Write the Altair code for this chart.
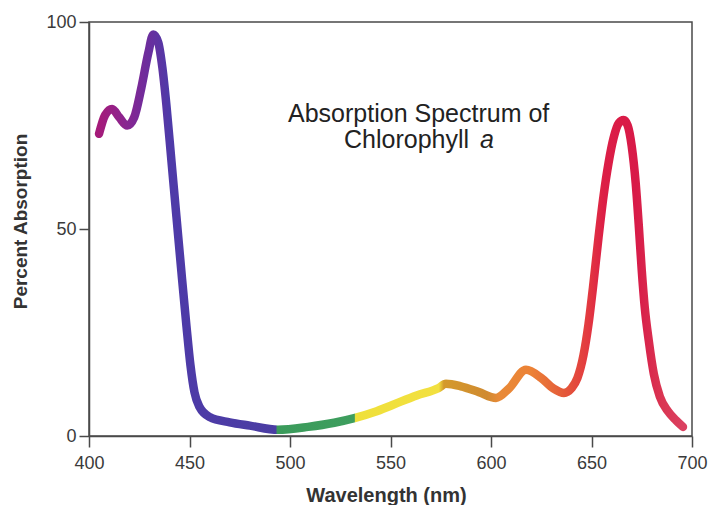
import altair as alt
import pandas as pd

# Absorption spectrum of chlorophyll a
wavelength = [405, 408, 411.5, 415, 419, 422.5, 426, 429.5, 432, 434.5, 436.5, 438.5, 441,
              443.5, 446, 448.5, 450.5, 452.5, 455, 460, 470, 480, 494, 509, 522, 532, 542,
              551, 563, 574, 577.6, 585, 594, 602.5, 609, 617.4, 625, 631, 636.3, 640,
              643, 646, 648.5, 651, 653.5, 656, 658.5, 661, 663.5, 666, 668, 670,
              672, 673.5, 675, 676.5, 678.5, 681, 684, 688, 692, 695.5]
absorption = [73, 77.5, 79, 77, 75, 77, 84, 92.5, 97, 95, 89, 80, 66.5,
              53, 39.5, 26.5, 17, 10.5, 7, 4.6, 3.3, 2.5, 1.5, 2.2, 3.2, 4.3, 5.8,
              7.5, 9.8, 11.6, 12.6, 12, 10.6, 9.2, 11.5, 16, 14, 11.5, 10.4, 11.5,
              14, 19.5, 27, 37, 48, 58, 66, 72, 75.5, 76.3, 75, 70,
              61, 51, 40, 31, 23, 15, 9.5, 6, 3.8, 2.2]

# colour of the curve along the wavelength axis
color_wl = [405, 418, 430, 440, 493, 493.6, 532, 532.6, 574, 576.5, 598, 604, 620, 636,
            648, 656, 672, 685, 695.5]
color_hex = ["#A51B7A", "#8A2590", "#6A2E9E", "#4E3AA8", "#4A3DA3", "#3B9B5B", "#3E9E5E",
             "#EFE03A", "#F2E040", "#D49A2C", "#D08A30", "#E88A38", "#EC8236", "#E45A3A",
             "#E33A40", "#DC1E46", "#D81A48", "#DA3552", "#DB4060"]

title_lines = ["Absorption Spectrum of", "Chlorophyll", "a"]

df = pd.DataFrame({"wl": wavelength, "abs": absorption})

lo, hi = min(wavelength), max(wavelength)
stops = [alt.GradientStop(offset=(w - lo) / (hi - lo), color=c) for w, c in zip(color_wl, color_hex)]
grad = alt.Gradient(gradient="linear", stops=stops, x1=0, x2=1, y1=0, y2=0)

x_enc = alt.X("wl:Q", scale=alt.Scale(domain=[400, 700], nice=False, zero=False),
              axis=alt.Axis(values=[400, 450, 500, 550, 600, 650, 700], title="Wavelength (nm)",
                            grid=False, tickSize=11, labelPadding=7, labelFontSize=18,
                            labelFlush=False, labelOverlap=False,
                            labelColor="#3a3a3a", labelFont="Liberation Sans",
                            domainColor="#4a4a4a", tickColor="#4a4a4a", domainWidth=1.5,
                            tickWidth=1.5, titleFont="Liberation Sans", titleFontSize=20,
                            titleFontWeight="bold", titleColor="#333333", titleX=297,
                            titleY=59, titleBaseline="middle", titleAlign="center"))
y_enc = alt.Y("abs:Q", scale=alt.Scale(domain=[0, 100], nice=False),
              axis=alt.Axis(values=[0, 50, 100], title="Percent Absorption", grid=False,
                            tickSize=10, labelPadding=3, labelFontSize=18,
                            labelFlush=False, labelOverlap=False,
                            labelColor="#3a3a3a", labelFont="Liberation Sans",
                            domainColor="#4a4a4a", tickColor="#4a4a4a", domainWidth=1.5,
                            tickWidth=1.5, titleFont="Liberation Sans", titleFontSize=19,
                            titleFontWeight="bold", titleColor="#333333", titleX=-69,
                            titleY=199, titleAngle=-90, titleBaseline="middle",
                            titleAlign="center"))

curve = alt.Chart(df).mark_line(stroke=grad, strokeWidth=8.5, strokeCap="round",
                                strokeJoin="round", interpolate="monotone").encode(x=x_enc, y=y_enc)

tdf = pd.DataFrame({"t": title_lines, "x": [564, 526.9, 594.5], "y": [75.8, 69.6, 69.6]})

t1 = alt.Chart(tdf.iloc[[0]]).mark_text(font="Liberation Sans", fontSize=25, color="#222222",
                                         align="center", baseline="alphabetic").encode(
    x="x:Q", y="y:Q", text="t:N")
t2 = alt.Chart(tdf.iloc[[1]]).mark_text(font="Liberation Sans", fontSize=25, color="#222222",
                                         align="left", baseline="alphabetic").encode(
    x="x:Q", y="y:Q", text="t:N")
t3 = alt.Chart(tdf.iloc[[2]]).mark_text(font="Liberation Sans", fontSize=25, color="#222222",
                                         align="left", baseline="alphabetic",
                                         fontStyle="italic").encode(
    x="x:Q", y="y:Q", text="t:N")

chart = alt.layer(curve, t1, t2, t3).properties(
    width=603, height=414, autosize="none",
    padding={"left": 81, "top": 14, "right": 16, "bottom": 69},
    background="white",
).configure_view(stroke="#4a4a4a", strokeWidth=1.5)

chart.save("out.html", embed_options={"renderer": "svg", "actions": False})
